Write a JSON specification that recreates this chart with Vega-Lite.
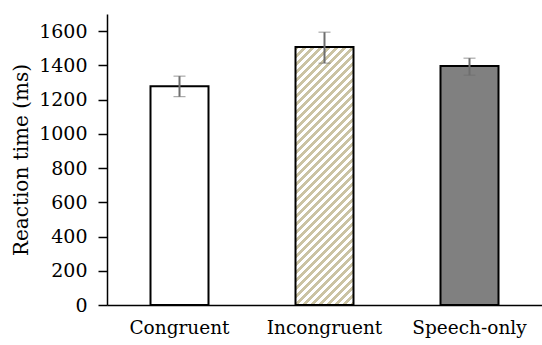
{
  "$schema": "https://vega.github.io/schema/vega-lite/v6.json",
  "width": 435,
  "height": 291,
  "autosize": {"type": "none"},
  "padding": {"left": 107, "top": 14, "right": 0, "bottom": 40},
  "config": {
    "view": {"stroke": null},
    "font": "DejaVu Serif"
  },
  "data": {
    "values": [
      {"cond": "Congruent", "mean": 1278, "lo": 1217, "hi": 1337},
      {"cond": "Incongruent", "mean": 1507, "lo": 1413, "hi": 1594},
      {"cond": "Speech-only", "mean": 1396, "lo": 1343, "hi": 1442}
    ]
  },
  "encoding": {
    "x": {
      "field": "cond", "type": "nominal", "sort": null,
      "scale": {"paddingInner": 0.6, "paddingOuter": 0.3},
      "axis": {"title": null, "labelAngle": 0, "ticks": false, "labelPadding": 13, "domainWidth": 1.5, "labelFont": "DejaVu Serif", "labelFontSize": 18.5, "labelColor": "#000", "domainColor": "#000"}
    }
  },
  "resolve": {"axis": {"y": "independent"}},
  "layer": [
    {
      "mark": {"type": "bar", "stroke": "#000", "strokeWidth": 2},
      "encoding": {
        "y": {
          "field": "mean", "type": "quantitative",
          "scale": {"domain": [0, 1700], "nice": false},
          "axis": {"title": "Reaction time (ms)", "values": [0, 200, 400, 600, 800, 1000, 1200, 1400, 1600], "format": "d", "tickSize": 9, "labelPadding": 11, "titlePadding": 7, "domainWidth": 1.5, "tickWidth": 1.5, "labelFont": "DejaVu Serif", "labelFontSize": 19, "labelColor": "#000", "titleFont": "DejaVu Serif", "titleFontSize": 20, "titleFontWeight": "normal", "titleColor": "#000", "domainColor": "#000", "tickColor": "#000", "grid": false}
        },
        "fill": {
          "condition": [
            {"test": "datum.cond === 'Incongruent'", "value": {
              "gradient": "linear", "x1": 0, "y1": 0, "x2": 0.2654, "y2": 1.1806,
              "stops": [
{"offset":0,"color":"#cbc3a3"},{"offset":0.0125,"color":"#cbc3a3"},{"offset":0.0125,"color":"#fff"},{"offset":0.025,"color":"#fff"},
{"offset":0.025,"color":"#cbc3a3"},{"offset":0.0375,"color":"#cbc3a3"},{"offset":0.0375,"color":"#fff"},{"offset":0.05,"color":"#fff"},
{"offset":0.05,"color":"#cbc3a3"},{"offset":0.0625,"color":"#cbc3a3"},{"offset":0.0625,"color":"#fff"},{"offset":0.075,"color":"#fff"},
{"offset":0.075,"color":"#cbc3a3"},{"offset":0.0875,"color":"#cbc3a3"},{"offset":0.0875,"color":"#fff"},{"offset":0.1,"color":"#fff"},
{"offset":0.1,"color":"#cbc3a3"},{"offset":0.1125,"color":"#cbc3a3"},{"offset":0.1125,"color":"#fff"},{"offset":0.125,"color":"#fff"},
{"offset":0.125,"color":"#cbc3a3"},{"offset":0.1375,"color":"#cbc3a3"},{"offset":0.1375,"color":"#fff"},{"offset":0.15,"color":"#fff"},
{"offset":0.15,"color":"#cbc3a3"},{"offset":0.1625,"color":"#cbc3a3"},{"offset":0.1625,"color":"#fff"},{"offset":0.175,"color":"#fff"},
{"offset":0.175,"color":"#cbc3a3"},{"offset":0.1875,"color":"#cbc3a3"},{"offset":0.1875,"color":"#fff"},{"offset":0.2,"color":"#fff"},
{"offset":0.2,"color":"#cbc3a3"},{"offset":0.2125,"color":"#cbc3a3"},{"offset":0.2125,"color":"#fff"},{"offset":0.225,"color":"#fff"},
{"offset":0.225,"color":"#cbc3a3"},{"offset":0.2375,"color":"#cbc3a3"},{"offset":0.2375,"color":"#fff"},{"offset":0.25,"color":"#fff"},
{"offset":0.25,"color":"#cbc3a3"},{"offset":0.2625,"color":"#cbc3a3"},{"offset":0.2625,"color":"#fff"},{"offset":0.275,"color":"#fff"},
{"offset":0.275,"color":"#cbc3a3"},{"offset":0.2875,"color":"#cbc3a3"},{"offset":0.2875,"color":"#fff"},{"offset":0.3,"color":"#fff"},
{"offset":0.3,"color":"#cbc3a3"},{"offset":0.3125,"color":"#cbc3a3"},{"offset":0.3125,"color":"#fff"},{"offset":0.325,"color":"#fff"},
{"offset":0.325,"color":"#cbc3a3"},{"offset":0.3375,"color":"#cbc3a3"},{"offset":0.3375,"color":"#fff"},{"offset":0.35,"color":"#fff"},
{"offset":0.35,"color":"#cbc3a3"},{"offset":0.3625,"color":"#cbc3a3"},{"offset":0.3625,"color":"#fff"},{"offset":0.375,"color":"#fff"},
{"offset":0.375,"color":"#cbc3a3"},{"offset":0.3875,"color":"#cbc3a3"},{"offset":0.3875,"color":"#fff"},{"offset":0.4,"color":"#fff"},
{"offset":0.4,"color":"#cbc3a3"},{"offset":0.4125,"color":"#cbc3a3"},{"offset":0.4125,"color":"#fff"},{"offset":0.425,"color":"#fff"},
{"offset":0.425,"color":"#cbc3a3"},{"offset":0.4375,"color":"#cbc3a3"},{"offset":0.4375,"color":"#fff"},{"offset":0.45,"color":"#fff"},
{"offset":0.45,"color":"#cbc3a3"},{"offset":0.4625,"color":"#cbc3a3"},{"offset":0.4625,"color":"#fff"},{"offset":0.475,"color":"#fff"},
{"offset":0.475,"color":"#cbc3a3"},{"offset":0.4875,"color":"#cbc3a3"},{"offset":0.4875,"color":"#fff"},{"offset":0.5,"color":"#fff"},
{"offset":0.5,"color":"#cbc3a3"},{"offset":0.5125,"color":"#cbc3a3"},{"offset":0.5125,"color":"#fff"},{"offset":0.525,"color":"#fff"},
{"offset":0.525,"color":"#cbc3a3"},{"offset":0.5375,"color":"#cbc3a3"},{"offset":0.5375,"color":"#fff"},{"offset":0.55,"color":"#fff"},
{"offset":0.55,"color":"#cbc3a3"},{"offset":0.5625,"color":"#cbc3a3"},{"offset":0.5625,"color":"#fff"},{"offset":0.575,"color":"#fff"},
{"offset":0.575,"color":"#cbc3a3"},{"offset":0.5875,"color":"#cbc3a3"},{"offset":0.5875,"color":"#fff"},{"offset":0.6,"color":"#fff"},
{"offset":0.6,"color":"#cbc3a3"},{"offset":0.6125,"color":"#cbc3a3"},{"offset":0.6125,"color":"#fff"},{"offset":0.625,"color":"#fff"},
{"offset":0.625,"color":"#cbc3a3"},{"offset":0.6375,"color":"#cbc3a3"},{"offset":0.6375,"color":"#fff"},{"offset":0.65,"color":"#fff"},
{"offset":0.65,"color":"#cbc3a3"},{"offset":0.6625,"color":"#cbc3a3"},{"offset":0.6625,"color":"#fff"},{"offset":0.675,"color":"#fff"},
{"offset":0.675,"color":"#cbc3a3"},{"offset":0.6875,"color":"#cbc3a3"},{"offset":0.6875,"color":"#fff"},{"offset":0.7,"color":"#fff"},
{"offset":0.7,"color":"#cbc3a3"},{"offset":0.7125,"color":"#cbc3a3"},{"offset":0.7125,"color":"#fff"},{"offset":0.725,"color":"#fff"},
{"offset":0.725,"color":"#cbc3a3"},{"offset":0.7375,"color":"#cbc3a3"},{"offset":0.7375,"color":"#fff"},{"offset":0.75,"color":"#fff"},
{"offset":0.75,"color":"#cbc3a3"},{"offset":0.7625,"color":"#cbc3a3"},{"offset":0.7625,"color":"#fff"},{"offset":0.775,"color":"#fff"},
{"offset":0.775,"color":"#cbc3a3"},{"offset":0.7875,"color":"#cbc3a3"},{"offset":0.7875,"color":"#fff"},{"offset":0.8,"color":"#fff"},
{"offset":0.8,"color":"#cbc3a3"},{"offset":0.8125,"color":"#cbc3a3"},{"offset":0.8125,"color":"#fff"},{"offset":0.825,"color":"#fff"},
{"offset":0.825,"color":"#cbc3a3"},{"offset":0.8375,"color":"#cbc3a3"},{"offset":0.8375,"color":"#fff"},{"offset":0.85,"color":"#fff"},
{"offset":0.85,"color":"#cbc3a3"},{"offset":0.8625,"color":"#cbc3a3"},{"offset":0.8625,"color":"#fff"},{"offset":0.875,"color":"#fff"},
{"offset":0.875,"color":"#cbc3a3"},{"offset":0.8875,"color":"#cbc3a3"},{"offset":0.8875,"color":"#fff"},{"offset":0.9,"color":"#fff"},
{"offset":0.9,"color":"#cbc3a3"},{"offset":0.9125,"color":"#cbc3a3"},{"offset":0.9125,"color":"#fff"},{"offset":0.925,"color":"#fff"},
{"offset":0.925,"color":"#cbc3a3"},{"offset":0.9375,"color":"#cbc3a3"},{"offset":0.9375,"color":"#fff"},{"offset":0.95,"color":"#fff"},
{"offset":0.95,"color":"#cbc3a3"},{"offset":0.9625,"color":"#cbc3a3"},{"offset":0.9625,"color":"#fff"},{"offset":0.975,"color":"#fff"},
{"offset":0.975,"color":"#cbc3a3"},{"offset":0.9875,"color":"#cbc3a3"},{"offset":0.9875,"color":"#fff"},{"offset":1,"color":"#fff"}
              ]
            }},
            {"test": "datum.cond === 'Speech-only'", "value": "#808080"}
          ],
          "value": "#ffffff"
        }
      }
    },
    {
      "mark": {"type": "errorbar", "ticks": {"size": 12, "color": "#6e6e6e", "strokeWidth": 2}, "rule": {"color": "#6e6e6e", "strokeWidth": 2}},
      "encoding": {
        "y": {"field": "lo", "type": "quantitative", "title": null, "axis": null},
        "y2": {"field": "hi"}
      }
    }
  ]
}
